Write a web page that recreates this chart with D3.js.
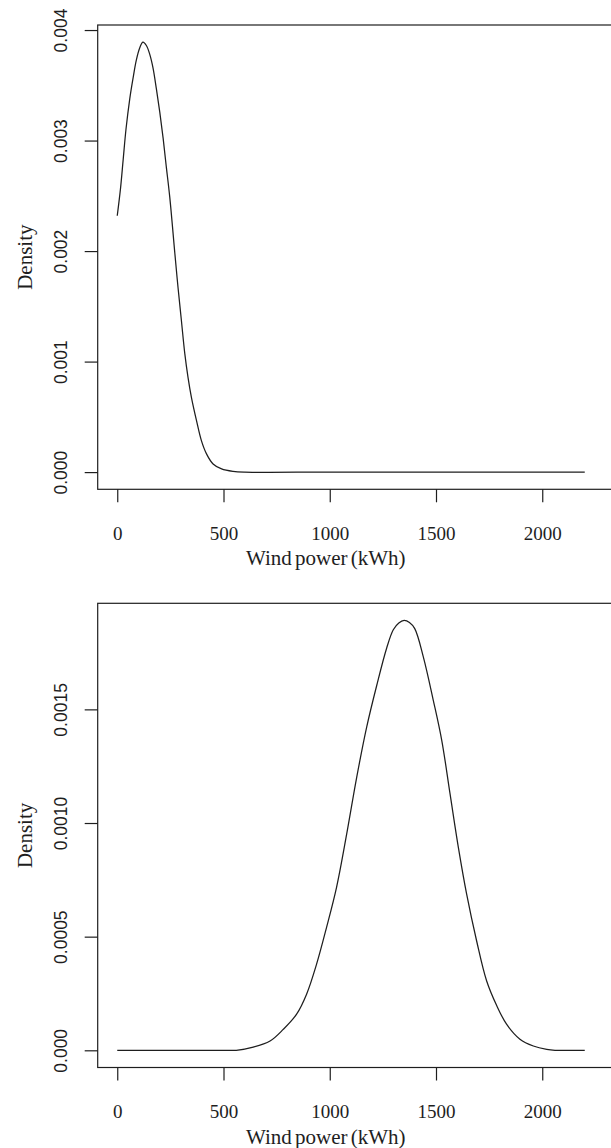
<!DOCTYPE html>
<html>
<head>
<meta charset="utf-8">
<script src="https://cdn.jsdelivr.net/npm/d3@7"></script>
<style>
  html, body { margin: 0; padding: 0; background: #fff; overflow: hidden; }
  svg { display: block; }
</style>
</head>
<body>
<svg id="chart" width="611" height="1148"></svg>
<script>
// Density of wind power output, two scenarios (kWh on x, density on y)
const topPowerX = [0, 15, 28, 41, 59, 74, 90, 106, 121, 137, 153, 168, 184, 200, 216, 231, 247,
  271, 286, 302, 318, 333, 349, 373, 396, 420, 451, 491, 545, 600, 1000, 1500, 2000, 2200];
const topDensity = [2.32, 2.56, 2.83, 3.10, 3.38, 3.56, 3.73, 3.84, 3.89, 3.86, 3.78, 3.66, 3.47, 3.26, 3.02, 2.76, 2.49,
  1.98, 1.67, 1.37, 1.07, 0.858, 0.677, 0.466, 0.285, 0.165, 0.074, 0.029, 0.007, 0, 0, 0, 0, 0].map(v => v * 1e-3);

const bottomPowerX = [0, 500, 560, 640, 719, 781, 844, 891, 938, 985, 1032, 1080, 1127, 1174, 1221, 1268,
  1299, 1325, 1350, 1375, 1400, 1440, 1487, 1527, 1566, 1605, 1644, 1691, 1738, 1785, 1832, 1895, 1958, 2021, 2060, 2200];
const bottomDensity = [0, 0, 0, 0.014, 0.041, 0.092, 0.159, 0.247, 0.379, 0.541, 0.717, 0.953, 1.202, 1.423, 1.605, 1.770,
  1.850, 1.880, 1.891, 1.882, 1.855, 1.732, 1.541, 1.364, 1.129, 0.894, 0.688, 0.482, 0.306, 0.198, 0.115, 0.049, 0.019, 0.004, 0, 0].map(v => v * 1e-3);

const xTickValues = [0, 500, 1000, 1500, 2000];
const xTickLabels = ["0", "500", "1000", "1500", "2000"];
const topYTickValues = [0, 0.001, 0.002, 0.003, 0.004];
const topYTickLabels = ["0.000", "0.001", "0.002", "0.003", "0.004"];
const bottomYTickValues = [0, 0.0005, 0.0010, 0.0015];
const bottomYTickLabels = ["0.000", "0.0005", "0.0010", "0.0015"];

const xTitle = "Wind power (kWh)";
const yTitle = "Density";

const svg = d3.select("#chart");
const ink = "#1e1e1e";
const serif = "'Liberation Serif', 'Times New Roman', serif";
const sans = "'Liberation Sans', Arial, sans-serif";

function drawPanel(cfg) {
  const { top, bottom, left, right, xs, ys, yTicks, yLabels } = cfg;
  const g = svg.append("g");

  const x = d3.scaleLinear().domain([-92, 2500]).range([left, left + 2592 * 0.2125]);
  const yMax = d3.max(ys);
  const y = d3.scaleLinear().domain([-0.04 * yMax, 1.04 * yMax]).range([bottom, top]);

  // frame
  g.append("rect")
    .attr("x", left).attr("y", top)
    .attr("width", right - left).attr("height", bottom - top)
    .attr("fill", "none").attr("stroke", ink).attr("stroke-width", 1.2);

  // density curve
  const line = d3.line().x((d, i) => x(xs[i])).y(d => y(d)).curve(d3.curveCatmullRom.alpha(0.5));
  g.append("path")
    .attr("d", line(ys))
    .attr("fill", "none").attr("stroke", ink).attr("stroke-width", 1.25);

  // x axis
  const xAxis = d3.axisBottom(x)
    .tickValues(xTickValues)
    .tickFormat((d, i) => xTickLabels[i])
    .tickSize(13).tickPadding(24);
  const xa = g.append("g").attr("transform", `translate(0,${bottom})`).call(xAxis);
  xa.select(".domain").remove();
  xa.selectAll(".tick line").attr("stroke", ink).attr("stroke-width", 1.2);
  xa.selectAll(".tick text")
    .attr("fill", ink).attr("font-family", serif).attr("font-size", 19)
    .attr("dy", "0.71em");

  // y axis
  const yAxis = d3.axisLeft(y)
    .tickValues(yTicks)
    .tickFormat((d, i) => yLabels[i])
    .tickSize(13).tickPadding(0);
  const ya = g.append("g").attr("transform", `translate(${left},0)`).call(yAxis);
  ya.select(".domain").remove();
  ya.selectAll(".tick line").attr("stroke", ink).attr("stroke-width", 1.2);
  ya.selectAll(".tick text")
    .attr("fill", ink).attr("font-family", sans).attr("font-size", 17.5)
    .attr("text-anchor", "middle")
    .attr("x", null).attr("dy", null)
    .attr("transform", "translate(-31,0) rotate(-90)");

  // axis titles
  g.append("text")
    .attr("x", x(1000) - 4).attr("y", bottom + 76)
    .attr("text-anchor", "middle")
    .attr("font-family", serif).attr("font-size", 21).attr("fill", ink)
    .attr("word-spacing", -2)
    .text(xTitle);
  g.append("text")
    .attr("transform", `translate(32,${(top + bottom) / 2}) rotate(-90)`)
    .attr("text-anchor", "middle")
    .attr("font-family", serif).attr("font-size", 21).attr("fill", ink)
    .text(yTitle);
}

drawPanel({ top: 25, bottom: 489.3, left: 97.7, right: 640, xs: topPowerX, ys: topDensity,
  yTicks: topYTickValues, yLabels: topYTickLabels });
drawPanel({ top: 603.3, bottom: 1067.5, left: 97.7, right: 640, xs: bottomPowerX, ys: bottomDensity,
  yTicks: bottomYTickValues, yLabels: bottomYTickLabels });
</script>
</body>
</html>
